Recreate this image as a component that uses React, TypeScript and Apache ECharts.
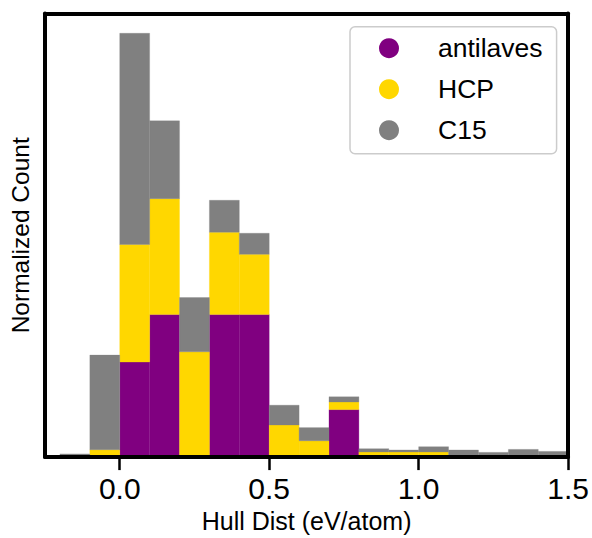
import React, { useEffect, useRef } from "react";
import * as echarts from "echarts";

// Histogram bin edges (eV/atom), bin width 0.1
const binEdges = [
  -0.2, -0.1, 0.0, 0.1, 0.2, 0.3, 0.4, 0.5, 0.6, 0.7, 0.8, 0.9, 1.0, 1.1, 1.2, 1.3, 1.4, 1.5,
];

// Density-normalized counts per bin, one list per structure type
const antilaves = [0, 0, 1.667, 2.5, 0, 2.5, 2.5, 0, 0, 0.833, 0, 0, 0, 0, 0, 0, 0];
const hcp = [0, 0.13, 2.062, 2.033, 1.846, 1.444, 1.057, 0.563, 0.286, 0.133, 0.09, 0.09, 0.09, 0, 0, 0, 0];
const c15 = [
  0.055, 1.659, 3.704, 1.364, 0.953, 0.56, 0.369, 0.347, 0.231, 0.092, 0.057, 0.035, 0.092, 0.125, 0.083, 0.135, 0.1,
];

const seriesNames = ["antilaves", "HCP", "C15"];
const seriesColors = ["#800080", "#FFD700", "#808080"];
const xTickValues = [0, 0.5, 1.0, 1.5];

const FONT = "'Liberation Sans', Arial, sans-serif";

export default function App() {
  const ref = useRef<HTMLDivElement>(null);

  useEffect(() => {
    document.body.style.margin = "0";
    if (!ref.current) return;
    const chart = echarts.init(ref.current, null, { renderer: "svg" });

    // Stack the three histograms: each rect spans [bottom, bottom + value]
    const stacks = [antilaves, hcp, c15];
    const bottoms = binEdges.slice(0, -1).map(() => 0);
    const seriesData = stacks.map((vals) =>
      vals
        .map((v, i) => {
          const b = bottoms[i];
          bottoms[i] = b + v;
          return [binEdges[i], binEdges[i + 1], b, b + v];
        })
        .filter((d) => d[3] > d[2])
    );

    const renderBin = (color: string) => (_params: any, api: any) => {
      const p0 = api.coord([api.value(0), api.value(3)]);
      const p1 = api.coord([api.value(1), api.value(2)]);
      return {
        type: "rect",
        shape: { x: p0[0], y: p0[1], width: p1[0] - p0[0], height: p1[1] - p0[1] },
        style: { fill: color, stroke: color, lineWidth: 0.3 },
      };
    };

    const frameLine = { show: true, onZero: false, lineStyle: { color: "#000", width: 4 } };
    const xMin = -0.25;
    const xMax = 1.5;
    const yMax = 7.78;

    chart.setOption({
      animation: false,
      backgroundColor: "#fff",
      textStyle: { fontFamily: FONT },
      grid: { left: 44, right: 21, top: 13.5, bottom: 75.5 },
      legend: {
        orient: "vertical",
        left: 350,
        top: 26.7,
        data: seriesNames,
        icon: "circle",
        itemWidth: 20,
        itemHeight: 20,
        itemGap: 14,
        padding: [8, 14, 10, 29],
        borderColor: "#cccccc",
        borderWidth: 1.5,
        borderRadius: 5,
        backgroundColor: "rgba(255,255,255,0.8)",
        textStyle: {
          fontFamily: FONT,
          fontSize: 26.5,
          lineHeight: 26.5,
          color: "#000",
          padding: [0, 0, 0, 34],
        },
      },
      xAxis: [
        {
          type: "value",
          min: xMin,
          max: xMax,
          z: 10,
          name: "Hull Dist (eV/atom)",
          nameLocation: "middle",
          nameGap: 45,
          nameTextStyle: { fontFamily: FONT, fontSize: 25, color: "#000" },
          axisLine: frameLine,
          axisTick: {
            show: true,
            length: 13,
            lineStyle: { color: "#000", width: 2.5 },
            customValues: xTickValues,
          },
          axisLabel: {
            customValues: xTickValues,
            formatter: (v: number) => v.toFixed(1),
            fontFamily: FONT,
            fontSize: 30,
            color: "#000",
            margin: 16,
          },
          splitLine: { show: false },
        },
        {
          type: "value",
          position: "top",
          min: xMin,
          max: xMax,
          z: 10,
          axisLine: frameLine,
          axisTick: { show: false },
          axisLabel: { show: false },
          splitLine: { show: false },
        },
      ],
      yAxis: [
        {
          type: "value",
          position: "left",
          min: 0,
          max: yMax,
          z: 10,
          name: "Normalized Count",
          nameLocation: "middle",
          nameGap: 12,
          nameTextStyle: { fontFamily: FONT, fontSize: 24.5, color: "#000" },
          axisLine: frameLine,
          axisTick: { show: false },
          axisLabel: { show: false },
          splitLine: { show: false },
        },
        {
          type: "value",
          position: "right",
          min: 0,
          max: yMax,
          z: 10,
          axisLine: frameLine,
          axisTick: { show: false },
          axisLabel: { show: false },
          splitLine: { show: false },
        },
      ],
      series: seriesNames.map((name, k) => ({
        name,
        type: "custom",
        xAxisIndex: 0,
        yAxisIndex: 0,
        itemStyle: { color: seriesColors[k] },
        encode: { x: [0, 1], y: [2, 3] },
        renderItem: renderBin(seriesColors[k]),
        data: seriesData[k],
      })),
    });

    return () => chart.dispose();
  }, []);

  return <div ref={ref} style={{ width: 592, height: 538 }} />;
}
